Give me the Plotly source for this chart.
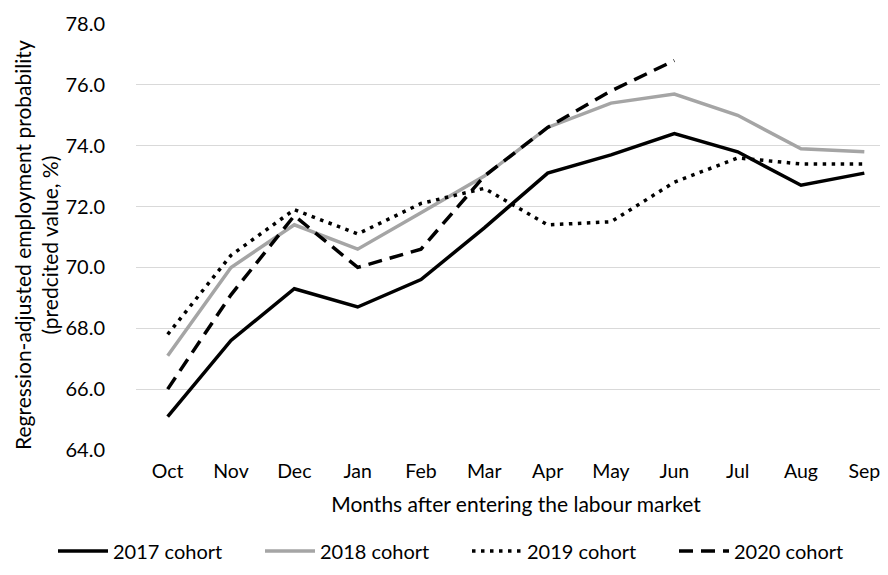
import plotly.graph_objects as go

months = ['Oct', 'Nov', 'Dec', 'Jan', 'Feb', 'Mar', 'Apr', 'May', 'Jun', 'Jul', 'Aug', 'Sep']
cohort_2017 = [65.1, 67.6, 69.3, 68.7, 69.6, 71.3, 73.1, 73.7, 74.4, 73.8, 72.7, 73.1]
cohort_2018 = [67.1, 70.0, 71.4, 70.6, 71.8, 73.0, 74.6, 75.4, 75.7, 75.0, 73.9, 73.8]
cohort_2019 = [67.8, 70.4, 71.9, 71.1, 72.1, 72.6, 71.4, 71.5, 72.8, 73.6, 73.4, 73.4]
cohort_2020 = [66.0, 69.1, 71.7, 70.0, 70.6, 73.0, 74.6, 75.8, 76.8, None, None, None]
y_ticks = [64, 66, 68, 70, 72, 74, 76, 78]

font = 'Lato, Calibri, Carlito, sans-serif'

fig = go.Figure()
fig.add_trace(go.Scatter(x=months, y=cohort_2017, mode='lines', name='2017 cohort',
                         line=dict(color='black', width=3.5)))
fig.add_trace(go.Scatter(x=months, y=cohort_2018, mode='lines', name='2018 cohort',
                         line=dict(color='#A5A5A5', width=3.5)))
fig.add_trace(go.Scatter(x=months, y=cohort_2019, mode='lines', name='2019 cohort',
                         line=dict(color='black', width=3.5, dash='3.5px,5.5px')))
fig.add_trace(go.Scatter(x=months, y=cohort_2020, mode='lines', name='2020 cohort',
                         line=dict(color='black', width=3.5, dash='14px,8px')))

fig.update_layout(
    width=888, height=575,
    margin=dict(l=128, r=0, t=16, b=133),
    plot_bgcolor='white', paper_bgcolor='white',
    font=dict(family=font, size=20, color='black'),
    showlegend=True,
    legend=dict(orientation='h', x=(45 - 128) / 760, xanchor='left',
                y=(442 - 543) / 426, yanchor='middle',
                font=dict(size=20), entrywidth=142, itemwidth=50),
    xaxis=dict(
        title=dict(text='Months after entering the labour market', standoff=16,
                   font=dict(size=21)),
        range=[-0.5, 11.5],
        showgrid=False, zeroline=False, showline=False, ticks='',
        tickfont=dict(size=19.5), ticklabelstandoff=7,
    ),
    yaxis=dict(
        range=[64, 78], tickvals=y_ticks, tickformat='.1f',
        showgrid=True, gridcolor='#D9D9D9', gridwidth=1.2, zeroline=False,
        showline=False, ticks='', tickfont=dict(size=20), ticklabelstandoff=30,
    ),
    annotations=[dict(
        text='Regression-adjusted employment probability<br>(predcited value, %)',
        xref='paper', yref='paper', x=(27.5 - 128) / 760, y=0.48,
        xanchor='center', yanchor='middle', textangle=-90, showarrow=False,
        font=dict(size=21, family=font),
    )],
)

fig.write_html('out.html')
